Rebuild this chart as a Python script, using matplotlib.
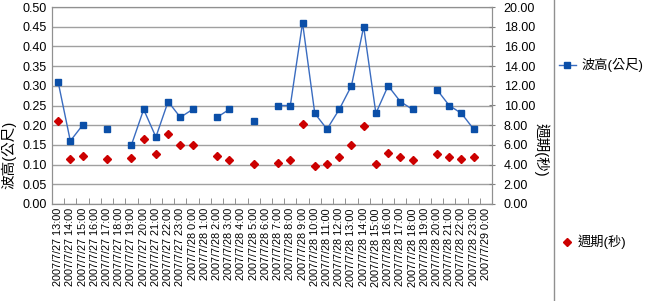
import numpy as np
import matplotlib
matplotlib.use('Agg')
import matplotlib.pyplot as plt
from matplotlib.lines import Line2D

plt.rcParams['font.family'] = ['Liberation Sans', 'Noto Sans CJK TC']

# hourly categories 2007/7/27 13:00 .. 2007/7/29 0:00
labels = (['2007/7/27 %d:00' % h for h in range(13, 24)] +
          ['2007/7/28 %d:00' % h for h in range(0, 24)] +
          ['2007/7/29 0:00'])

nan = np.nan
# wave height (m), left axis
wave = [0.31, 0.16, 0.20, nan, 0.19, nan, 0.15, 0.24, 0.17, 0.26, 0.22,
        0.24, nan, 0.22, 0.24, nan, 0.21, nan, 0.25, 0.25, 0.46, 0.23,
        0.19, 0.24, 0.30, 0.45, 0.23, 0.30, 0.26, 0.24, nan, 0.29, 0.25,
        0.23, 0.19, nan]
# period (s), right axis
period = [8.4, 4.6, 4.85, nan, 4.6, nan, 4.7, 6.6, 5.05, 7.1, 5.95,
          5.95, nan, 4.85, 4.5, nan, 4.05, nan, 4.15, 4.5, 8.1, 3.85,
          4.05, 4.75, 6.0, 7.9, 4.05, 5.2, 4.8, 4.5, nan, 5.1, 4.8,
          4.6, 4.8, nan]

x = np.arange(len(labels))
blue = '#0b4fa8'
red = '#cc0000'

fig = plt.figure(figsize=(6.45, 3.01), dpi=100)
ax = fig.add_axes([52/645, 1-204/301, 440/645, 197/301])
ax2 = ax.twinx()

ax.plot(x, wave, color='#3a6cc0', lw=1, marker='s', ms=5,
        mfc=blue, mec=blue, zorder=3)
ax2.plot(x, period, ls='none', marker='D', ms=4.5, mfc=red, mec=red, zorder=3)

ax.set_xlim(-0.5, len(labels)-0.5)
ax.set_ylim(0, 0.5)
ax.set_yticks(np.arange(0, 0.501, 0.05))
ax.set_yticklabels(['%.2f' % v for v in np.arange(0, 0.501, 0.05)], fontsize=9)
ax.yaxis.grid(True, color='#a0a0a0', lw=1)
ax.set_axisbelow(True)
ax.tick_params(axis='y', length=0, pad=4)

ax.set_xticks(x)
ax.set_xticklabels(labels, rotation=90, fontsize=7.8)
ax.set_xticks(np.arange(-0.5, len(labels)), minor=True)
ax.tick_params(axis='x', which='major', length=0, pad=3)
ax.tick_params(axis='x', which='minor', length=4, direction='in', color='#808080')

ax2.set_ylim(0, 20)
ax2.set_yticks(np.arange(0, 20.1, 2))
ax2.set_yticklabels(['%.2f' % v for v in np.arange(0, 20.1, 2)], fontsize=9)
ax2.tick_params(axis='y', length=5, direction='inout', color='#808080', pad=6)

for a in (ax, ax2):
    for s in a.spines.values():
        s.set_color('#909090')

fig.text(0.013, 1-155/301, '波高(公尺)', rotation=90, fontsize=10.5,
         ha='center', va='center')
fig.text(541/645, 1-150/301, '週期(秒)', rotation=-90, fontsize=10.5,
         ha='center', va='center')

# separator and legend
fig.add_artist(Line2D([554/645, 554/645], [0, 1], color='#909090', lw=1))
fig.add_artist(Line2D([559/645, 576/645], [1-65/301, 1-65/301], color='#3a6cc0',
                      lw=1))
fig.add_artist(Line2D([567/645], [1-65/301], ls='none', marker='s', ms=5,
                      mfc=blue, mec=blue))
fig.text(581/645, 1-65/301, '波高(公尺)', fontsize=9.5, va='center')
fig.add_artist(Line2D([567/645], [1-242/301], ls='none', marker='D', ms=4.5,
                      mfc=red, mec=red))
fig.text(578/645, 1-242/301, '週期(秒)', fontsize=9.5, va='center')

fig.savefig('out.png', dpi=100)
